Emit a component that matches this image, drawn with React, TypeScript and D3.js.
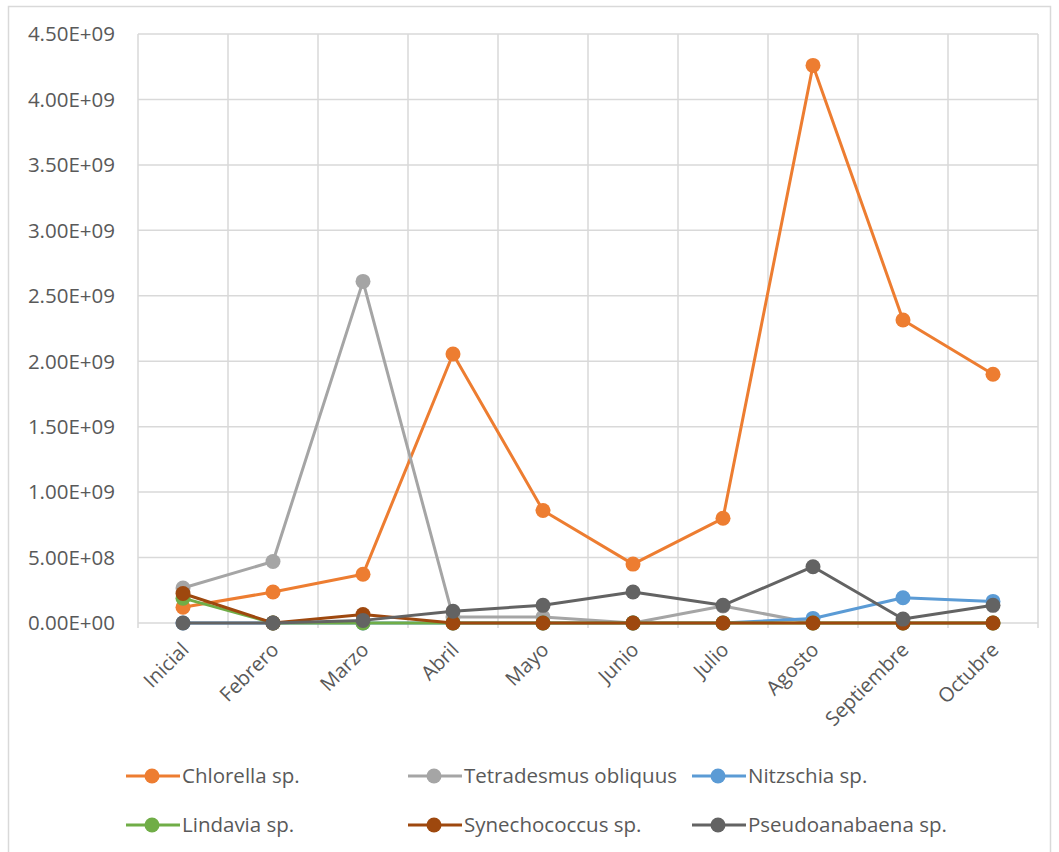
import React from "react";
import * as d3 from "d3";

const months = ["Inicial", "Febrero", "Marzo", "Abril", "Mayo", "Junio", "Julio", "Agosto", "Septiembre", "Octubre"];

const chlorella = [1.2e8, 2.37e8, 3.72e8, 2.055e9, 8.6e8, 4.5e8, 8.0e8, 4.26e9, 2.315e9, 1.9e9];
const tetradesmus = [2.67e8, 4.7e8, 2.61e9, 4.6e7, 4.6e7, 0, 1.3e8, 0, 0, 0];
const nitzschia = [0, 0, 0, 0, 0, 0, 0, 3.5e7, 1.93e8, 1.65e8];
const lindavia = [1.9e8, 0, 0, 0, 0, 0, 0, 0, 0, 0];
const synechococcus = [2.25e8, 0, 6.5e7, 0, 0, 0, 0, 0, 0, 0];
const pseudoanabaena = [0, 0, 2.0e7, 9.0e7, 1.35e8, 2.37e8, 1.35e8, 4.3e8, 3.0e7, 1.35e8];

const yTicks = [0, 5e8, 1e9, 1.5e9, 2e9, 2.5e9, 3e9, 3.5e9, 4e9, 4.5e9];

const series = [
  { name: "Chlorella sp.", values: chlorella, color: "#ED7D31" },
  { name: "Tetradesmus obliquus", values: tetradesmus, color: "#A5A5A5" },
  { name: "Nitzschia sp.", values: nitzschia, color: "#5B9BD5" },
  { name: "Lindavia sp.", values: lindavia, color: "#70AD47" },
  { name: "Synechococcus sp.", values: synechococcus, color: "#9E480E" },
  { name: "Pseudoanabaena sp.", values: pseudoanabaena, color: "#636363" },
];

const W = 1059;
const H = 852;
const plot = { left: 138, right: 1038, top: 34, bottom: 623 };
const font = "'Open Sans', 'Noto Sans', sans-serif";
const textColor = "#595959";
const gridColor = "#D9D9D9";

function fmtSci(v: number): string {
  if (v === 0) return "0.00E+00";
  const exp = Math.floor(Math.log10(v));
  const mant = v / Math.pow(10, exp);
  return `${mant.toFixed(2)}E+${String(exp).padStart(2, "0")}`;
}

export default function App() {
  const x = d3.scaleBand<string>().domain(months).range([plot.left, plot.right]);
  const y = d3.scaleLinear().domain([0, 4.5e9]).range([plot.bottom, plot.top]);
  const cx = (m: string) => (x(m) as number) + x.bandwidth() / 2;

  const line = d3
    .line<number>()
    .x((_, i) => cx(months[i]))
    .y((v) => y(v));

  const legendCols = [152, 434, 718];
  const legendRows = [776, 825];

  return (
    <svg
      width={W}
      height={H}
      style={{ position: "absolute", left: 0, top: 0, background: "#fff" }}
      fontFamily={font}
    >
      <rect x={8.5} y={6.5} width={1042} height={860} fill="#fff" stroke={gridColor} strokeWidth={1.5} />

      {/* horizontal gridlines */}
      {yTicks.map((t) => (
        <line key={`h${t}`} x1={plot.left} x2={plot.right} y1={y(t)} y2={y(t)} stroke={gridColor} strokeWidth={1.5} />
      ))}
      {/* vertical gridlines at category boundaries, with short ticks below the axis */}
      {months.map((m) => (
        <line
          key={`v${m}`}
          x1={x(m) as number}
          x2={x(m) as number}
          y1={plot.top}
          y2={plot.bottom + 5}
          stroke={gridColor}
          strokeWidth={1.5}
        />
      ))}
      <line x1={plot.right} x2={plot.right} y1={plot.top} y2={plot.bottom + 5} stroke={gridColor} strokeWidth={1.5} />

      {/* y-axis labels */}
      {yTicks.map((t) => (
        <text key={`yl${t}`} x={115} y={y(t)} dy="0.36em" textAnchor="end" fontSize={20.5} fill={textColor}>
          {fmtSci(t)}
        </text>
      ))}

      {/* x-axis labels */}
      {months.map((m) => (
        <text
          key={`xl${m}`}
          transform={`translate(${cx(m) + 7},${plot.bottom + 28}) rotate(-45)`}
          textAnchor="end"
          fontSize={20}
          fill={textColor}
        >
          {m}
        </text>
      ))}

      {/* series */}
      {series.map((s) => (
        <g key={s.name}>
          <path d={line(s.values) as string} fill="none" stroke={s.color} strokeWidth={3} strokeLinejoin="round" />
          {s.values.map((v, i) => (
            <circle key={i} cx={cx(months[i])} cy={y(v)} r={7.5} fill={s.color} />
          ))}
        </g>
      ))}

      {/* legend */}
      {series.map((s, i) => {
        const lx = legendCols[i % 3];
        const ly = legendRows[Math.floor(i / 3)];
        return (
          <g key={`lg${s.name}`}>
            <line x1={lx - 26} x2={lx + 28} y1={ly} y2={ly} stroke={s.color} strokeWidth={3} />
            <circle cx={lx} cy={ly} r={7.5} fill={s.color} />
            <text x={lx + 30} y={ly} dy="0.36em" fontSize={20.5} fill={textColor}>
              {s.name}
            </text>
          </g>
        );
      })}
    </svg>
  );
}
